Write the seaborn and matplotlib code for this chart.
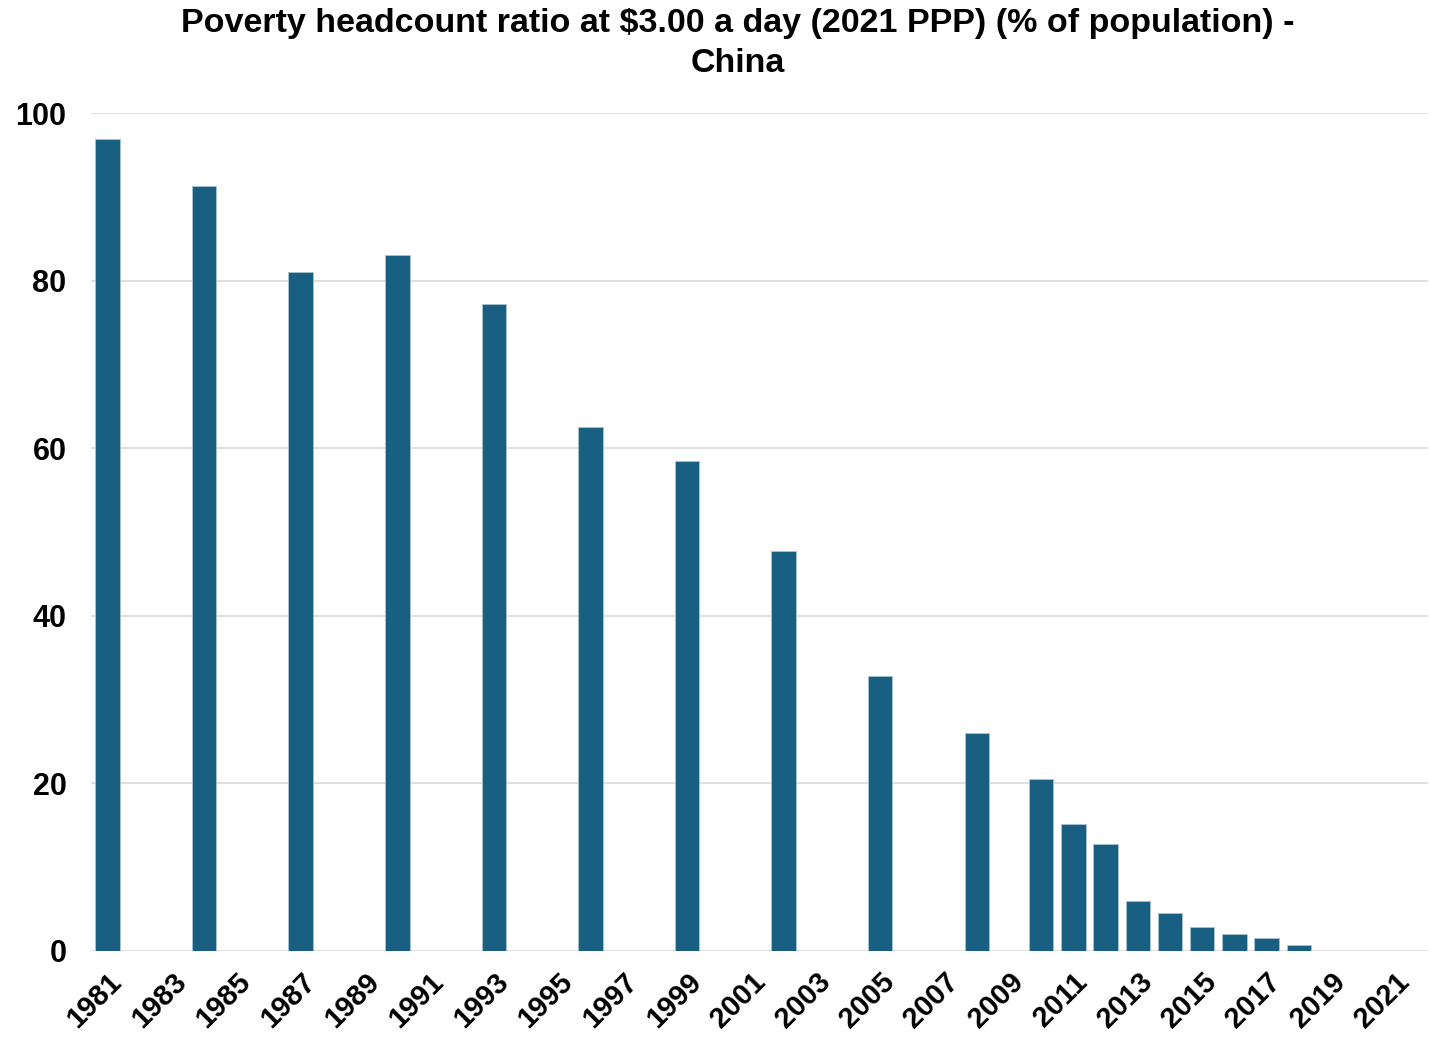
import matplotlib
matplotlib.use('Agg')
import numpy as np
import pandas as pd
import matplotlib.pyplot as plt
import matplotlib.transforms as mtransforms
import seaborn as sns

# poverty headcount ratio at $3.00/day, China
years = [1981, 1984, 1987, 1990, 1993, 1996, 1999, 2002, 2005, 2008,
         2010, 2011, 2012, 2013, 2014, 2015, 2016, 2017, 2018]
values = [96.9, 91.3, 81.0, 83.1, 77.2, 62.5, 58.5, 47.7, 32.8, 26.0,
          20.5, 15.2, 12.8, 6.0, 4.5, 2.9, 2.0, 1.6, 0.7]
all_years = [str(y) for y in range(1981, 2022)]
tick_labels = [str(y) for y in range(1981, 2022, 2)]

df = pd.DataFrame({"year": [str(y) for y in years], "value": values})

sns.set_theme(style="white")
plt.rcParams['font.family'] = ['Liberation Sans', 'DejaVu Sans']
plt.rcParams['text.color'] = 'black'
plt.rcParams['xtick.color'] = 'black'
plt.rcParams['ytick.color'] = 'black'

fig = plt.figure(figsize=(14.29, 10.37), dpi=100)
ax = fig.add_axes([0.064, 0.083, 0.935, 0.808])

sns.barplot(data=df, x="year", y="value", order=all_years, color="#185f82",
            saturation=1, width=0.76, edgecolor="#a9c4d3", linewidth=0.6, ax=ax)

ax.set_ylim(0, 100)
ax.set_xlim(-0.5, len(all_years))
ax.set_yticks([0, 20, 40, 60, 80, 100])
ax.yaxis.grid(True, color="#d9d9d9", linewidth=1.2)
ax.set_axisbelow(True)
for s in ax.spines.values():
    s.set_visible(False)

ax.set_xticks([all_years.index(t) for t in tick_labels])
ax.set_xticklabels(tick_labels, rotation=45, ha="right", rotation_mode="anchor",
                   fontsize=21, fontweight="bold")
shift = mtransforms.ScaledTranslation(-0.06, 0, fig.dpi_scale_trans)
for lbl in ax.get_xticklabels():
    lbl.set_transform(lbl.get_transform() + shift)
ax.tick_params(axis="y", labelsize=22, pad=12)
ax.tick_params(axis="x", pad=6)
for lbl in ax.get_yticklabels():
    lbl.set_fontweight("bold")
ax.set_xlabel("")
ax.set_ylabel("")

fig.suptitle("Poverty headcount ratio at $3.00 a day (2021 PPP) (% of population) -\nChina",
             x=0.516, y=0.992, fontsize=24.5, fontweight="bold", linespacing=1.38)

fig.savefig("out.png", dpi=100)
